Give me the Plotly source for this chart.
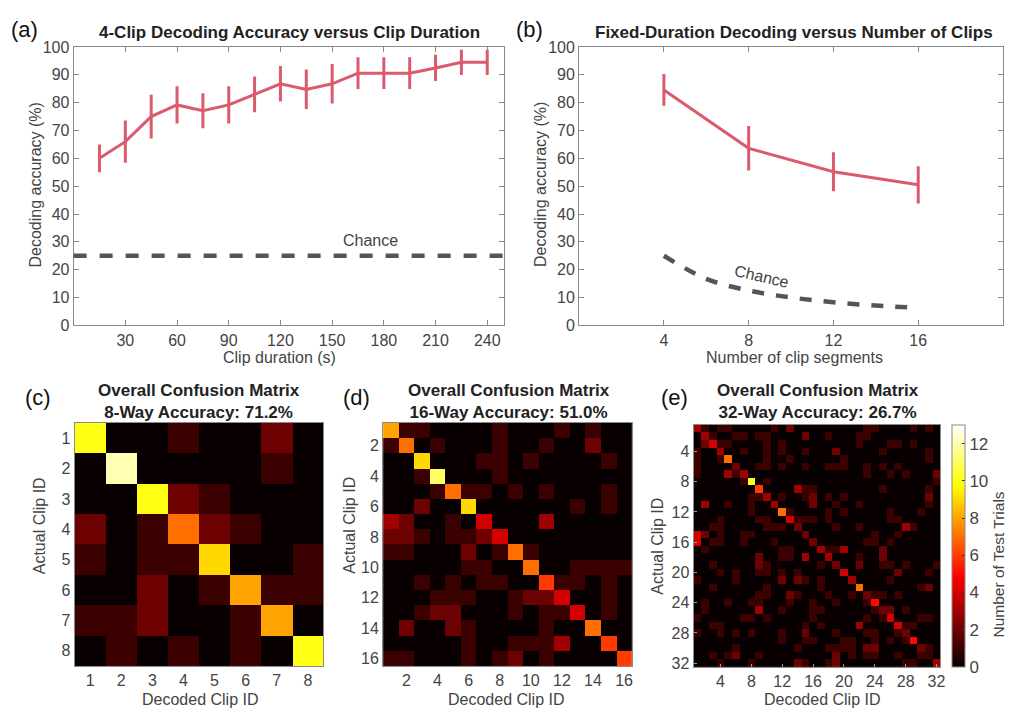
import plotly.graph_objects as go

# ---------------- data ----------------
DURATION_S = [15, 30, 45, 60, 75, 90, 105, 120, 135, 150, 165, 180, 195, 210, 225, 240]
ACC_A = [60.0, 66.0, 75.0, 79.2, 77.1, 79.2, 83.0, 86.8, 84.8, 86.8, 90.6, 90.6, 90.6, 92.5, 94.5, 94.5]
ERR_A = [5.0, 7.6, 7.9, 6.7, 6.3, 6.7, 6.4, 6.4, 7.1, 7.1, 5.7, 5.7, 5.7, 4.7, 4.5, 4.5]
CHANCE_A = 25

N_CLIPS = [4, 8, 12, 16]
ACC_B = [84.6, 63.6, 55.2, 50.5]
ERR_B = [5.7, 8.0, 7.0, 6.7]
CHANCE_B_X = [4, 6, 8, 10, 12, 14, 16]
CHANCE_B_Y = [25.0, 16.7, 12.5, 10.0, 8.3, 7.1, 6.25]

CM8 = [
    [10, 0, 0, 1, 0, 0, 2, 0],
    [0, 12, 0, 0, 0, 0, 1, 0],
    [0, 0, 10, 2, 1, 0, 0, 0],
    [2, 0, 1, 7, 2, 1, 0, 0],
    [1, 0, 1, 1, 9, 0, 0, 1],
    [0, 0, 2, 0, 1, 8, 1, 1],
    [1, 1, 2, 0, 0, 1, 8, 0],
    [0, 1, 0, 1, 0, 1, 0, 10],
]

CM16 = [
    [8, 1, 1, 0, 0, 0, 0, 1, 0, 0, 0, 1, 0, 1, 0, 0],
    [1, 7, 0, 1, 0, 0, 0, 1, 0, 0, 1, 0, 0, 2, 0, 0],
    [0, 0, 9, 0, 0, 0, 1, 1, 0, 1, 0, 0, 0, 0, 1, 0],
    [0, 0, 1, 11, 0, 0, 0, 1, 0, 0, 0, 0, 0, 0, 0, 0],
    [0, 0, 0, 1, 7, 1, 1, 0, 1, 0, 1, 0, 0, 0, 1, 0],
    [0, 0, 2, 0, 0, 9, 0, 0, 0, 0, 0, 0, 1, 0, 1, 0],
    [3, 2, 0, 0, 1, 0, 4, 0, 0, 0, 3, 0, 0, 0, 0, 0],
    [2, 2, 1, 0, 1, 1, 2, 4, 0, 0, 0, 0, 0, 0, 0, 0],
    [1, 1, 0, 0, 0, 2, 0, 1, 7, 1, 0, 0, 0, 0, 0, 0],
    [0, 0, 0, 0, 0, 1, 1, 0, 0, 7, 0, 0, 1, 1, 1, 1],
    [0, 0, 1, 0, 1, 0, 1, 1, 0, 0, 6, 1, 1, 0, 1, 0],
    [0, 0, 0, 1, 1, 1, 0, 0, 1, 2, 2, 4, 0, 0, 1, 0],
    [0, 0, 1, 2, 2, 0, 0, 0, 1, 0, 1, 1, 4, 0, 1, 0],
    [0, 2, 0, 0, 2, 1, 0, 0, 0, 0, 1, 0, 0, 7, 0, 0],
    [0, 0, 0, 0, 0, 1, 0, 0, 1, 1, 1, 3, 0, 0, 6, 0],
    [1, 1, 0, 0, 0, 1, 0, 1, 2, 0, 1, 0, 0, 0, 0, 6],
]

# 32-way matrix: non-zero cells per actual clip row {decoded clip: count}
CM32_ROWS = {
    1: {1: 3, 2: 1, 4: 1, 5: 1, 11: 1, 13: 2, 23: 1, 24: 1, 29: 1, 31: 1},
    2: {2: 3, 3: 1, 6: 1, 7: 1, 9: 1, 10: 1, 15: 2, 18: 1, 22: 1, 23: 1},
    3: {2: 2, 3: 4, 4: 1, 5: 1, 10: 1, 12: 1, 22: 1, 26: 1, 27: 1, 29: 1},
    4: {1: 1, 4: 3, 7: 1, 10: 1, 12: 1, 15: 1, 19: 2, 25: 1, 31: 1},
    5: {1: 1, 4: 1, 5: 7, 10: 1, 13: 1, 20: 1, 31: 1},
    6: {1: 1, 6: 2, 9: 1, 10: 1, 12: 1, 15: 1, 18: 1, 19: 1, 20: 1, 23: 1, 25: 1, 27: 1},
    7: {1: 1, 5: 3, 6: 1, 7: 3, 23: 1, 26: 1, 28: 1, 32: 2},
    8: {7: 1, 8: 10, 10: 1, 32: 1},
    9: {9: 6, 14: 3, 15: 1, 16: 1, 25: 1, 31: 1},
    10: {8: 1, 9: 1, 10: 3, 12: 1, 15: 1, 16: 2, 18: 1, 20: 1, 31: 2},
    11: {2: 3, 5: 1, 8: 1, 11: 3, 16: 2, 19: 1, 22: 1, 31: 1},
    12: {8: 1, 12: 7, 13: 1, 18: 1, 20: 1, 26: 1, 30: 1},
    13: {4: 1, 9: 1, 10: 1, 13: 4, 14: 1, 15: 1, 16: 1, 18: 1, 26: 1, 27: 1},
    14: {3: 1, 4: 1, 10: 1, 11: 1, 12: 1, 14: 2, 19: 1, 22: 1, 28: 3, 29: 1},
    15: {1: 4, 2: 2, 4: 1, 7: 1, 8: 1, 15: 2, 24: 1, 27: 1},
    16: {1: 4, 3: 1, 4: 1, 7: 1, 11: 1, 16: 2, 23: 1, 24: 1, 26: 1},
    17: {2: 1, 12: 1, 13: 1, 17: 3, 18: 1, 19: 1, 20: 3, 25: 2},
    18: {9: 2, 12: 1, 13: 1, 15: 3, 18: 3, 22: 1, 25: 2},
    19: {3: 1, 9: 2, 10: 1, 17: 1, 19: 2, 22: 2, 25: 1, 26: 1, 28: 1, 32: 1},
    20: {4: 1, 6: 1, 9: 1, 10: 1, 12: 1, 14: 1, 20: 4, 27: 2, 31: 1},
    21: {1: 1, 6: 1, 12: 2, 14: 2, 15: 1, 17: 1, 21: 3, 26: 1},
    22: {3: 1, 10: 1, 17: 1, 22: 7, 30: 1, 31: 2},
    23: {9: 1, 10: 1, 13: 2, 14: 1, 18: 1, 21: 1, 23: 2, 24: 1, 25: 1, 27: 1},
    24: {2: 1, 5: 1, 8: 1, 9: 1, 13: 1, 16: 1, 19: 1, 23: 1, 24: 5},
    25: {2: 1, 9: 3, 12: 1, 16: 1, 17: 1, 24: 1, 25: 2, 26: 2, 28: 1},
    26: {1: 1, 7: 1, 8: 1, 10: 1, 16: 1, 23: 1, 25: 1, 26: 4, 30: 1, 31: 1},
    27: {3: 1, 4: 1, 15: 1, 17: 1, 22: 3, 27: 4, 28: 1, 29: 1},
    28: {1: 1, 4: 1, 6: 1, 8: 1, 12: 1, 15: 2, 19: 1, 23: 1, 24: 1, 27: 1, 28: 2},
    29: {12: 1, 15: 1, 16: 1, 20: 1, 21: 1, 24: 1, 26: 1, 28: 1, 29: 5},
    30: {6: 1, 14: 1, 18: 1, 19: 1, 20: 1, 21: 1, 23: 2, 24: 2, 30: 2, 31: 1},
    31: {3: 1, 5: 1, 6: 2, 9: 1, 19: 2, 21: 1, 23: 1, 24: 1, 27: 1, 30: 1, 31: 1},
    32: {4: 1, 8: 1, 14: 2, 15: 1, 18: 1, 19: 2, 28: 1, 29: 1, 32: 3},
}

TITLE_A = "4-Clip Decoding Accuracy versus Clip Duration"
TITLE_B = "Fixed-Duration Decoding versus Number of Clips"
TITLE_C = "Overall Confusion Matrix<br>8-Way Accuracy: 71.2%"
TITLE_D = "Overall Confusion Matrix<br>16-Way Accuracy: 51.0%"
TITLE_E = "Overall Confusion Matrix<br>32-Way Accuracy: 26.7%"
YLAB_AB = "Decoding accuracy (%)"
XLAB_A = "Clip duration (s)"
XLAB_B = "Number of clip segments"
XLAB_CM = "Decoded Clip ID"
YLAB_CM = "Actual Clip ID"
CBAR_LAB = "Number of Test Trials"

# ---------------- styling ----------------
W, H = 1010, 719
FONT = "Arial, 'Liberation Sans', sans-serif"
LINE_RED = "#DB5A6D"
CHANCE_GREY = "#555555"
AX_GREY = "#8a8a8a"
TXT = "#444444"
HOT = [[0.0, "rgb(8,0,0)"], [0.375, "rgb(255,0,0)"], [0.75, "rgb(255,255,0)"], [1.0, "rgb(255,255,255)"]]
ZMAX = 13
TICK_SIZE = 16
LAB_SIZE = 16
TITLE_SIZE = 17


def dx(p):
    return p / W


def dy(p):
    return 1 - p / H


def build32(rows, n=32):
    m = [[0] * n for _ in range(n)]
    for r, cols in rows.items():
        for c, v in cols.items():
            m[r - 1][c - 1] = v
    return m


CM32 = build32(CM32_ROWS)

fig = go.Figure()

# panel (a)
fig.add_trace(go.Scatter(
    x=DURATION_S, y=ACC_A, mode="lines",
    line=dict(color=LINE_RED, width=3),
    error_y=dict(type="data", array=ERR_A, color=LINE_RED, thickness=3, width=0),
    xaxis="x", yaxis="y", showlegend=False))

# panel (b)
fig.add_trace(go.Scatter(
    x=CHANCE_B_X, y=CHANCE_B_Y, mode="lines",
    line=dict(color=CHANCE_GREY, width=4.5, dash="12px,12px", shape="spline"),
    xaxis="x2", yaxis="y2", showlegend=False))
fig.add_trace(go.Scatter(
    x=N_CLIPS, y=ACC_B, mode="lines",
    line=dict(color=LINE_RED, width=3),
    error_y=dict(type="data", array=ERR_B, color=LINE_RED, thickness=3, width=0),
    xaxis="x2", yaxis="y2", showlegend=False))

tickfont = dict(family=FONT, size=TICK_SIZE, color=TXT)

# confusion matrices
for mat, xa, ya, show in [(CM8, "x3", "y3", False), (CM16, "x4", "y4", False), (CM32, "x5", "y5", True)]:
    n = len(mat)
    kw = {}
    if show:
        kw = dict(colorbar=dict(
            x=dx(957), xanchor="left", y=dy(551), yanchor="middle",
            len=248 / H, lenmode="fraction", thickness=13, xpad=0, ypad=0,
            outlinecolor=AX_GREY, outlinewidth=1,
            tickmode="array", tickvals=[0, 2, 4, 6, 8, 10, 12],
            ticks="inside", ticklen=3, tickcolor="#333333",
            tickfont=dict(family=FONT, size=17, color=TXT)))
    fig.add_trace(go.Heatmap(
        z=mat, x=list(range(1, n + 1)), y=list(range(1, n + 1)),
        colorscale=HOT, zmin=0, zmax=ZMAX, showscale=show,
        xaxis=xa, yaxis=ya, hoverinfo="skip", **kw))

common_line = dict(showline=True, linecolor=AX_GREY, linewidth=1, mirror="ticks",
                   ticks="inside", ticklen=5, tickcolor=AX_GREY, showgrid=False,
                   zeroline=False, tickfont=tickfont)

layout = dict(
    width=W, height=H, margin=dict(l=0, r=0, t=0, b=0),
    paper_bgcolor="white", plot_bgcolor="white",
    font=dict(family=FONT, color=TXT),
    xaxis=dict(domain=[dx(74), dx(507)], range=[0, 250], tickvals=list(range(30, 241, 30)),
               anchor="y", **common_line),
    yaxis=dict(domain=[dy(325), dy(40)], range=[0, 100], dtick=10,
               anchor="x", **common_line),
    xaxis2=dict(domain=[dx(582), dx(1008)], range=[0, 20], tickvals=N_CLIPS,
                anchor="y2", **common_line),
    yaxis2=dict(domain=[dy(325), dy(40)], range=[0, 100], dtick=10,
                anchor="x2", **common_line),
)

hm_axes = [("3", 8, 75, 325, 425, 674, 1), ("4", 16, 385, 635, 425, 674, 2), ("5", 32, 697, 945, 427, 675, 4)]
for k, n, x0, x1, y0, y1, step in hm_axes:
    ticks = list(range(step, n + 1, step))
    small = dict(ticks="inside", ticklen=3, tickcolor="#9a9a9a") if n == 32 else dict(ticks="")
    layout["xaxis" + k] = dict(domain=[dx(x0), dx(x1)], range=[0.5, n + 0.5], tickvals=ticks,
                               showline=True, linecolor=AX_GREY, linewidth=1, mirror=True,
                               showgrid=False, zeroline=False, tickfont=tickfont, anchor="y" + k, **small)
    layout["yaxis" + k] = dict(domain=[dy(y1), dy(y0)], range=[n + 0.5, 0.5], tickvals=ticks,
                               showline=True, linecolor=AX_GREY, linewidth=1, mirror=True,
                               showgrid=False, zeroline=False, tickfont=tickfont, anchor="x" + k, **small)

fig.update_layout(**layout)

# chance line in (a)
fig.add_shape(type="line", xref="x domain", yref="y", x0=0, x1=1, y0=CHANCE_A, y1=CHANCE_A,
              line=dict(color=CHANCE_GREY, width=4.5, dash="13px,13px"))

ann = []
bold = dict(family=FONT, size=TITLE_SIZE, color="#222222")
labfont = dict(family=FONT, size=LAB_SIZE, color=TXT)


def paper_text(text, px, py, font, angle=0):
    ann.append(dict(text=text, x=dx(px), y=dy(py), xref="paper", yref="paper", showarrow=False,
                    font=font, xanchor="center", yanchor="middle", textangle=angle))


paper_text("<b>" + TITLE_A + "</b>", 291, 25, bold)
paper_text("<b>" + TITLE_B + "</b>", 798, 25, bold)
for t, cx in [(TITLE_C, 200), (TITLE_D, 512), (TITLE_E, 822)]:
    paper_text("<b>" + t + "</b>", cx, 403, bold)
for lab, lx, ly in [("(a)", 25, 22), ("(b)", 532, 22), ("(c)", 38, 399), ("(d)", 358, 399), ("(e)", 678, 399)]:
    paper_text(lab, lx, ly, dict(family=FONT, size=22, color="#111111"))

# axis titles
paper_text(YLAB_AB, 36, 181, labfont, -90)
paper_text(XLAB_A, 281, 358, labfont)
paper_text(YLAB_AB, 543, 181, labfont, -90)
paper_text(XLAB_B, 798, 358, labfont)
for cx, ylx, yly in [(201, 40, 530), (509, 351, 530), (827, 661, 551)]:
    paper_text(XLAB_CM, cx, 708, labfont)
    paper_text(YLAB_CM, ylx, yly, labfont, -90)
paper_text(CBAR_LAB, 1003, 570, dict(family=FONT, size=15.5, color=TXT), -90)

ann.append(dict(text="Chance", x=172, y=30.6, xref="x", yref="y", showarrow=False,
                font=dict(family=FONT, size=16, color=TXT)))
ann.append(dict(text="Chance", x=8.6, y=17.4, xref="x2", yref="y2", showarrow=False, textangle=13,
                font=dict(family=FONT, size=16, color=TXT)))
fig.update_layout(annotations=ann)

fig.write_html("out.html", config={"displayModeBar": False},
               post_script="document.body.style.margin='0';")
